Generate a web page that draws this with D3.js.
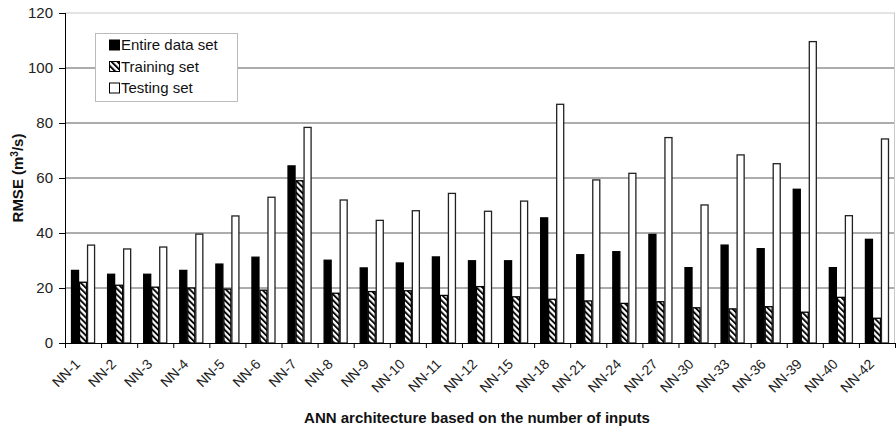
<!DOCTYPE html>
<html>
<head>
<meta charset="utf-8">
<script src="https://cdn.jsdelivr.net/npm/d3@7"></script>
<style>
  body { margin: 0; background: #fff; }
  text { font-family: "Liberation Sans", Arial, sans-serif; }
</style>
</head>
<body>
<div id="chart"></div>
<script>
// categories (ANN architectures)
var categories = ["NN-1", "NN-2", "NN-3", "NN-4", "NN-5", "NN-6", "NN-7", "NN-8", "NN-9", "NN-10", "NN-11", "NN-12",
  "NN-15", "NN-18", "NN-21", "NN-24", "NN-27", "NN-30", "NN-33", "NN-36", "NN-39", "NN-40", "NN-42"];

var entireSet = [26.4, 25.0, 25.0, 26.4, 28.7, 31.2, 64.4, 30.1, 27.3, 29.1, 31.3, 29.9,
  29.9, 45.5, 32.1, 33.2, 39.5, 27.4, 35.6, 34.3, 55.9, 27.4, 37.7];
var trainingSet = [22.1, 21.0, 20.3, 20.0, 19.6, 19.2, 59.0, 18.1, 18.7, 19.0, 17.3, 20.5,
  16.8, 15.9, 15.3, 14.4, 15.0, 12.8, 12.4, 13.2, 11.2, 16.6, 9.0];
var testingSet = [35.6, 34.2, 34.9, 39.6, 46.2, 53.0, 78.4, 52.0, 44.6, 48.1, 54.4, 47.9,
  51.6, 86.8, 59.3, 61.7, 74.7, 50.2, 68.4, 65.2, 109.6, 46.3, 74.2];

var seriesNames = ["Entire data set", "Training set", "Testing set"];
var yTicks = [0, 20, 40, 60, 80, 100, 120];

var margin = {top: 13, right: 1, bottom: 88, left: 65},
  W = 896, H = 431,
  width = W - margin.left - margin.right,
  height = H - margin.top - margin.bottom;

var svg = d3.select("#chart").append("svg")
  .attr("width", W)
  .attr("height", H);

// hatch pattern for training bars
var defs = svg.append("defs");
defs.append("pattern")
  .attr("id", "hatch")
  .attr("patternUnits", "userSpaceOnUse")
  .attr("width", 4.2)
  .attr("height", 4.2)
  .attr("patternTransform", "rotate(-45)")
  .call(function(p) {
    p.append("rect").attr("width", 4.2).attr("height", 4.2).attr("fill", "#fff");
    p.append("line").attr("x1", 1).attr("y1", 0).attr("x2", 1).attr("y2", 4.2)
      .attr("stroke", "#000").attr("stroke-width", 1.9);
  });

var g = svg.append("g")
  .attr("transform", "translate(" + margin.left + "," + margin.top + ")");

var x = d3.scaleBand().domain(categories).range([0, width]).padding(0);
var x1 = d3.scaleBand().domain(seriesNames).range([0, x.bandwidth()])
  .paddingInner(0).paddingOuter(0.75);
var y = d3.scaleLinear().domain([0, 120]).range([height, 0]);

// gridlines
g.selectAll(".grid")
  .data(yTicks.filter(function(d) { return d > 0; }))
  .enter().append("line")
  .attr("x1", 0).attr("x2", width)
  .attr("y1", function(d) { return y(d); })
  .attr("y2", function(d) { return y(d); })
  .attr("stroke", function(d) { return d == 120 ? "#c8c8c8" : "#5a5a5a"; })
  .attr("stroke-width", 1);

// right border of plot area
g.append("line")
  .attr("x1", width - 0.5).attr("x2", width - 0.5)
  .attr("y1", 0).attr("y2", height)
  .attr("stroke", "#c8c8c8");

var rows = categories.map(function(c, i) {
  return {cat: c, values: [entireSet[i], trainingSet[i], testingSet[i]]};
});
var fills = ["#000", "url(#hatch)", "#fff"];

var groups = g.selectAll(".grp")
  .data(rows)
  .enter().append("g")
  .attr("transform", function(d) { return "translate(" + x(d.cat) + ",0)"; });

groups.selectAll("rect")
  .data(function(d) {
    return d.values.map(function(v, k) { return {key: seriesNames[k], k: k, value: v}; });
  })
  .enter().append("rect")
  .attr("x", function(d) { return x1(d.key) + 0.5; })
  .attr("width", x1.bandwidth() - 1)
  .attr("y", function(d) { return y(d.value); })
  .attr("height", function(d) { return height - y(d.value); })
  .attr("fill", function(d) { return fills[d.k]; })
  .attr("stroke", function(d) { return d.k == 2 ? "#222" : "#000"; })
  .attr("stroke-width", 1.3);

// y axis
var yAxis = g.append("g")
  .call(d3.axisLeft(y).tickValues(yTicks).tickSize(6).tickPadding(6));
yAxis.select(".domain").attr("stroke", "#000").attr("d", "M0.5," + height + "V0");
yAxis.selectAll(".tick line").attr("stroke", "#000");
yAxis.selectAll("text").style("font-size", "15px").attr("fill", "#222");

// x axis
var xAxis = g.append("g")
  .attr("transform", "translate(0," + height + ")")
  .call(d3.axisBottom(x).tickSize(0).tickPadding(0));
xAxis.select(".domain").attr("stroke", "#000").attr("d", "M0,0.5H" + width);
// ticks at band boundaries
xAxis.selectAll(".sep")
  .data(categories.concat(["end"]))
  .enter().append("line")
  .attr("x1", function(d, i) { return i * x.step() + 0.5; })
  .attr("x2", function(d, i) { return i * x.step() + 0.5; })
  .attr("y1", 0).attr("y2", 5)
  .attr("stroke", "#000");
xAxis.selectAll(".tick text")
  .style("font-size", "14px")
  .attr("fill", "#222")
  .attr("text-anchor", "end")
  .attr("dy", "0")
  .attr("transform", "translate(-2,22) rotate(-45)");

// axis titles
svg.append("text")
  .attr("x", margin.left + width / 2 - 3)
  .attr("y", 423)
  .attr("text-anchor", "middle")
  .style("font-size", "15px")
  .style("font-weight", "bold")
  .attr("fill", "#111")
  .text("ANN architecture based on the number of inputs");

svg.append("text")
  .attr("transform", "translate(23,178) rotate(-90)")
  .attr("text-anchor", "middle")
  .style("font-size", "15px")
  .style("font-weight", "bold")
  .attr("fill", "#111")
  .html('RMSE (m<tspan baseline-shift="super" font-size="10px">3</tspan>/s)');

// legend
var legend = svg.append("g").attr("transform", "translate(95,33)");
legend.append("rect")
  .attr("x", 0.5).attr("y", 0.5)
  .attr("width", 142).attr("height", 68)
  .attr("fill", "#fff")
  .attr("stroke", "#bbb");
var items = legend.selectAll(".item")
  .data(seriesNames)
  .enter().append("g")
  .attr("transform", function(d, i) { return "translate(14," + (12 + i * 21.5) + ")"; });
items.append("rect")
  .attr("x", 0.5).attr("y", -5)
  .attr("width", 10).attr("height", 10)
  .attr("fill", function(d, i) { return fills[i]; })
  .attr("stroke", "#000")
  .attr("stroke-width", 1);
items.append("text")
  .attr("x", 12)
  .attr("y", 0)
  .attr("dy", "0.36em")
  .style("font-size", "15px")
  .attr("fill", "#111")
  .text(function(d) { return d; });
</script>
</body>
</html>
